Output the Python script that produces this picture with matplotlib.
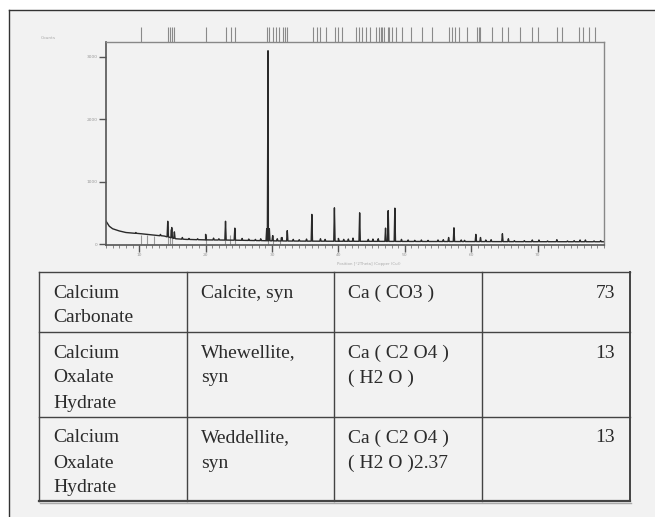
import numpy as np
import matplotlib
matplotlib.use("Agg")
import matplotlib.pyplot as plt
from matplotlib.patches import Rectangle
from matplotlib.ticker import MultipleLocator

# ---- diffractogram data ----
bg_2theta = [5.0, 5.5, 6.0, 7.0, 8.0, 10.3, 12.0, 13.8, 15.5, 17.0, 20.0, 24.0, 27.0,
             28.5, 31.0, 35.0, 40.0, 50.0, 60.0, 70.0, 80.0]
bg_counts = [372, 290, 250, 215, 190, 170, 150, 133, 90, 80, 72, 68, 62,
             60, 55, 52, 50, 47, 45, 43, 42]

peak_2theta = [14.3, 14.9, 15.3, 20.0, 23.0, 24.4, 29.2, 29.33, 29.4, 29.6, 30.1, 32.3,
               36.0, 39.4, 43.2, 47.1, 47.5, 48.5, 56.6, 57.4, 60.7, 61.4, 64.7, 65.6,
               69.2, 70.2, 72.9, 76.4, 77.2]
peak_counts = [370, 270, 200, 160, 370, 260, 250, 950, 3100, 250, 140, 220,
               480, 585, 505, 260, 540, 580, 110, 265, 160, 110, 170, 90,
               70, 70, 75, 70, 70]

minor_2theta = [9.5, 13.2, 16.5, 17.5, 18.8, 21.2, 22.0, 25.5, 26.5, 27.5, 28.3,
                30.8, 31.5, 33.2, 34.1, 35.2, 37.3, 38.0, 40.0, 40.8, 41.5, 42.2, 44.5,
                45.2, 46.0, 49.5, 50.5, 51.5, 52.5, 53.5, 55.0, 55.8, 58.5, 59.0, 62.2,
                63.0, 66.5, 68.0, 71.5, 74.5, 75.5, 78.5, 79.5]
minor_counts = [190, 160, 110, 95, 90, 100, 90, 95, 85, 80, 90,
                90, 110, 80, 75, 85, 90, 80, 95, 80, 85, 100, 80,
                85, 90, 80, 70, 65, 70, 65, 70, 75, 70, 65, 70,
                75, 60, 60, 55, 55, 60, 55, 60]

# reference pattern sticks (top strip and inside the plot)
strip_2theta = [10.2, 14.4, 14.7, 14.9, 15.3, 20.1, 23.0, 23.8, 24.4, 29.3, 29.6, 30.1,
                30.6, 31.1, 31.6, 32.0, 32.3, 36.1, 36.8, 37.3, 38.1, 39.5, 40.0, 40.6,
                42.6, 43.1, 43.6, 44.1, 44.8, 45.6, 46.1, 46.4, 46.6, 46.8, 47.4, 47.6,
                48.1, 48.6, 49.6, 50.9, 52.6, 54.1, 56.6, 57.1, 57.6, 58.1, 59.4, 60.9,
                61.1, 61.4, 63.1, 64.6, 65.6, 67.4, 69.2, 70.1, 72.9, 73.7, 76.2, 76.9,
                77.7, 78.7]
ref_2theta = [10.3, 11.2, 12.3, 14.3, 14.6, 14.9, 20.0, 22.9, 23.7, 24.4, 29.4, 30.1, 31.2]
ref_counts = [150, 150, 140, 300, 250, 260, 160, 200, 150, 250, 950, 150, 120]

y_ticks = [0, 1000, 2000, 3000]
x_ticks = [10, 20, 30, 40, 50, 60, 70]

# ---- identified phases table ----
compound_names = ["Calcium\nCarbonate", "Calcium\nOxalate\nHydrate", "Calcium\nOxalate\nHydrate"]
mineral_names = ["Calcite, syn", "Whewellite,\nsyn", "Weddellite,\nsyn"]
formulas = ["Ca ( CO3 )", "Ca ( C2 O4 )\n( H2 O )", "Ca ( C2 O4 )\n( H2 O )2.37"]
scores = [73, 13, 13]

W, H = 655, 517
fig = plt.figure(figsize=(W / 100, H / 100), dpi=100)
fig.patch.set_facecolor("white")

def fx(x):
    return x / W

def fy(y):
    return 1 - y / H

# full-figure axes in pixel units: slide background + table
base = fig.add_axes([0, 0, 1, 1])
base.set_xlim(0, W)
base.set_ylim(H, 0)
base.axis("off")
base.add_patch(Rectangle((9, 10), W, H, facecolor="#f2f2f2", edgecolor="none", zorder=0))
base.plot([9, W + 5], [10, 10], color="#333333", lw=1.0)
base.plot([9, 9], [10, H + 5], color="#333333", lw=1.0)

col_edges = [39, 187, 334, 482, 630]
row_edges = [272, 332, 417, 501]
line_c = "#444444"
for y in row_edges[:-1]:
    base.plot([col_edges[0], col_edges[-1]], [y, y], color=line_c, lw=1.0)
for x in col_edges[:-1]:
    base.plot([x, x], [row_edges[0], row_edges[-1]], color=line_c, lw=1.0)
# right / bottom edges with a small shadow
base.plot([col_edges[-1], col_edges[-1]], [row_edges[0], row_edges[-1]], color=line_c, lw=1.4)
base.plot([col_edges[0], col_edges[-1]], [row_edges[-1], row_edges[-1]], color=line_c, lw=1.6)
base.plot([col_edges[0] + 1, col_edges[-1] + 1], [row_edges[-1] + 2, row_edges[-1] + 2], color="#aaaaaa", lw=1.0)

tfont = dict(family=["Liberation Serif", "DejaVu Serif"], fontsize=14, color="#2b2b2b")
for r in range(3):
    y0 = row_edges[r] + 25.5
    cells = [compound_names[r], mineral_names[r], formulas[r]]
    for c, txt in enumerate(cells):
        for i, line in enumerate(txt.split("\n")):
            base.text(col_edges[c] + 14, y0 + i * 25, line, va="baseline", ha="left", **tfont)
    base.text(col_edges[4] - 15, y0, str(scores[r]), va="baseline", ha="right", **tfont)

# ---- diffractogram ----
ax = fig.add_axes([fx(106), fy(245), fx(604) - fx(106), fy(42) - fy(245)])
ax.set_facecolor("none")

vx = list(bg_2theta)
vy = list(bg_counts)
hw = 0.1
for p, h in zip(peak_2theta + minor_2theta, peak_counts + minor_counts):
    foot = float(np.interp(p, bg_2theta, bg_counts))
    vx += [p - hw, p, p + hw]
    vy += [foot, h, foot]
order = np.argsort(vx, kind="stable")
vx = np.array(vx)[order]
vy = np.array(vy)[order]

ax.vlines(ref_2theta, 0, ref_counts, color="#999999", lw=0.8)
ax.plot(vx, vy, color="#2a2a2a", lw=1.0)

ax.set_xlim(5, 80)
ax.set_ylim(-10, 3240)
ax.set_yticks(y_ticks)
ax.set_xticks(x_ticks)
ax.xaxis.set_minor_locator(MultipleLocator(1))
ax.tick_params(axis="both", which="major", labelsize=3.2, labelcolor="#999999",
               color="#555555", length=5, width=1.0, pad=1)
ax.tick_params(axis="x", which="minor", color="#777777", length=2, width=0.6)
for s in ["left", "bottom"]:
    ax.spines[s].set_color("#555555")
    ax.spines[s].set_linewidth(1.2)
for s in ["top", "right"]:
    ax.spines[s].set_color("#888888")
    ax.spines[s].set_linewidth(1.0)

# reference stick strip above the plot
strip = fig.add_axes([fx(106), fy(42), fx(604) - fx(106), fy(27) - fy(42)])
strip.set_xlim(5, 80)
strip.set_ylim(0, 1)
strip.axis("off")
strip.vlines(strip_2theta, 0, 1, color="#8a8a8a", lw=0.8)

fig.text(fx(48), fy(38), "Counts", fontsize=3.2, color="#aaaaaa", ha="center", va="center")
fig.text(fx(369), fy(264), "Position [°2Theta] (Copper (Cu))", fontsize=2.8,
         color="#aaaaaa", ha="center", va="center")

fig.savefig("out.png", dpi=100, facecolor=fig.get_facecolor())
